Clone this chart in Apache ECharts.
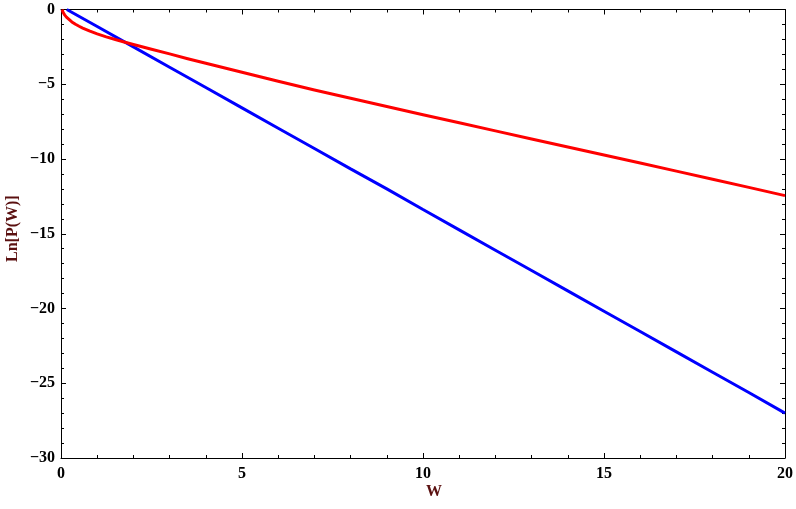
<!DOCTYPE html>
<html>
<head>
<meta charset="utf-8">
<script src="https://cdn.jsdelivr.net/npm/echarts@6/dist/echarts.min.js"></script>
<style>html,body{margin:0;padding:0;background:#fff}#c{width:796px;height:509px}</style>
</head>
<body>
<div id="c"></div>
<script>
// Red curve
const redW = [0.03, 0.06, 0.1, 0.15, 0.2, 0.3, 0.4, 0.5, 0.6, 0.8, 1.0, 1.25, 1.5, 1.77, 2, 2.5, 3, 3.5, 4, 5, 6, 7, 8, 9, 10, 11, 12, 13, 14, 15, 16, 17, 18, 19, 20];
const redLnP = [0, -0.2, -0.36, -0.51, -0.63, -0.83, -0.99, -1.12, -1.24, -1.45, -1.63, -1.83, -2.01, -2.19, -2.34, -2.66, -2.97, -3.29, -3.6, -4.2, -4.8, -5.38, -5.94, -6.49, -7.04, -7.58, -8.12, -8.66, -9.2, -9.73, -10.27, -10.81, -11.35, -11.9, -12.45];
// Blue line
const blueW = [0.16, 1, 2, 3, 4, 5, 6, 7, 8, 9, 10, 11, 12, 13, 14, 15, 16, 17, 18, 19, 20];
const blueLnP = [0, -1.14, -2.5, -3.86, -5.22, -6.58, -7.94, -9.3, -10.66, -12.0, -13.38, -14.74, -16.1, -17.46, -18.82, -20.18, -21.54, -22.9, -24.26, -25.62, -27.0];
const xTicks = [0, 5, 10, 15, 20];
const yTicks = [0, -5, -10, -15, -20, -25, -30];
const xTitle = 'W';
const yTitle = 'Ln[P(W)]';

const pair = (xs, ys) => xs.map((x, i) => [x, ys[i]]);
const fmt = v => String(v).replace('-', '\u2212');
const font = {fontFamily: 'Liberation Serif', fontWeight: 'bold', fontSize: 16, color: '#000'};
const lineStyle = {color: '#000', width: 1};

const chart = echarts.init(document.getElementById('c'), null, {renderer: 'canvas'});
const baseX = {
  type: 'value', min: 0, max: 20, interval: 5,
  axisLine: {show: true, onZero: false, lineStyle},
  axisTick: {show: true, inside: true, length: 5, lineStyle},
  minorTick: {show: true, splitNumber: 5, length: 3, lineStyle},
  splitLine: {show: false}, minorSplitLine: {show: false}
};
const baseY = {
  type: 'value', min: -30, max: 0, interval: 5,
  axisLine: {show: true, onZero: false, lineStyle},
  axisTick: {show: true, inside: true, length: 5, lineStyle},
  minorTick: {show: true, splitNumber: 5, length: 3, lineStyle},
  splitLine: {show: false}, minorSplitLine: {show: false}
};
chart.setOption({
  animation: false,
  backgroundColor: '#fff',
  grid: {left: 61, right: 10, top: 9.5, bottom: 51, containLabel: false},
  xAxis: [
    Object.assign({}, baseX, {position: 'bottom',
      axisLabel: Object.assign({}, font, {margin: 8, formatter: v => xTicks.includes(v) ? fmt(v) : ''})}),
    Object.assign({}, baseX, {position: 'top', axisLabel: {show: false}})
  ],
  yAxis: [
    Object.assign({}, baseY, {position: 'left',
      axisLabel: Object.assign({}, font, {margin: 6, formatter: v => yTicks.includes(v) ? fmt(v) : ''})}),
    Object.assign({}, baseY, {position: 'right', axisLabel: {show: false}})
  ],
  series: [
    {type: 'line', data: pair(blueW, blueLnP), showSymbol: false, smooth: false,
     lineStyle: {color: '#0000ff', width: 3}, itemStyle: {color: '#0000ff'}},
    {type: 'line', data: pair(redW, redLnP), showSymbol: false, smooth: false,
     lineStyle: {color: '#ff0000', width: 3, join: 'round'}, itemStyle: {color: '#ff0000'}}
  ],
  graphic: [
    {type: 'text', left: 426, top: 484, style: {text: xTitle, font: 'bold 16px "Liberation Serif"', fill: '#5a1010'}},
    {type: 'text', x: 5, y: 262, rotation: Math.PI / 2,
     style: {text: yTitle, font: 'bold 16px "Liberation Serif"', fill: '#5a1010'}}
  ]
});
</script>
</body>
</html>
